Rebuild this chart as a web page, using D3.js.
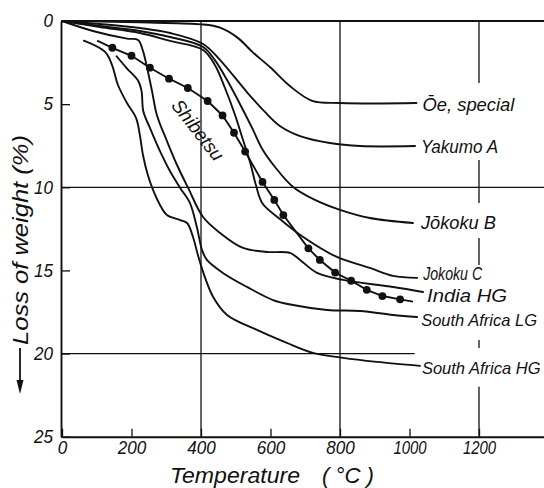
<!DOCTYPE html>
<html><head><meta charset="utf-8">
<script src="https://cdn.jsdelivr.net/npm/d3@7"></script>
<style>
html,body{margin:0;padding:0;background:#fff;}
svg{display:block;}
.f{font-family:"Liberation Sans Narrow","Liberation Sans","Arial Narrow",sans-serif;font-style:italic;fill:#111;}
</style></head>
<body><svg id="c" width="544" height="488"></svg>
<script>
// ---- data (Temperature °C, Loss of weight %) ----
const xTicks = [0, 200, 400, 600, 800, 1000, 1200];
const yTicks = [0, 5, 10, 15, 20, 25];
const seriesNames = ["Ōe, special", "Yakumo A", "Jōkoku B", "Jokoku C", "India HG", "South Africa LG", "South Africa HG"];
const oeSpecial = [[0,0],[110,0.03],[250,0.1],[400,0.2],[455,0.4],[505,1.0],[550,1.9],[600,2.8],[655,3.9],[720,4.8],[800,4.93],[1020,4.93]];
const yakumoA = [[0,0],[109,0.18],[224,0.42],[311,0.72],[406,1.38],[455,2.35],[532,4.27],[584,5.47],[627,6.31],[685,6.92],[771,7.34],[858,7.52],[1016,7.52]];
const jokokuB = [[0,0],[109,0.3],[224,0.6],[311,0.96],[406,1.56],[440,2.35],[475,3.55],[512,4.99],[547,6.43],[578,7.76],[613,8.78],[665,9.98],[728,10.76],[800,11.36],[886,11.85],[1010,12.15]];
const jokokuC = [[0,0],[109,0.36],[224,0.72],[311,1.2],[406,1.74],[440,2.65],[469,4.03],[498,5.65],[521,7.16],[541,8.48],[558,9.86],[576,10.94],[627,11.91],[694,12.99],[791,14.19],[886,14.85],[953,15.33],[1022,15.45]];
const indiaHG = [[0,0],[89,0.6],[187,1.06],[219,1.14],[233,1.8],[245,2.83],[259,4.21],[273,5.65],[302,7.22],[331,8.66],[363,10.04],[406,11.79],[455,12.75],[521,13.65],[590,13.89],[656,13.95],[685,14.37],[734,15.15],[809,15.57],[953,16.0],[1039,16.3]];
const southAfricaLG = [[157,2.12],[186,2.83],[220,3.62],[229,4.23],[234,5.43],[253,6.43],[282,7.83],[311,9.04],[340,10.04],[368,10.94],[388,12.39],[403,13.77],[417,14.37],[463,15.15],[532,15.99],[607,16.78],[665,17.08],[763,17.38],[858,17.44],[953,17.68],[1022,17.8]];
const southAfricaHG = [[63,1.18],[124,1.86],[144,2.65],[161,3.85],[187,4.93],[213,5.83],[224,6.85],[233,8.06],[247,9.26],[262,10.16],[282,11.06],[302,11.67],[340,11.97],[360,12.15],[377,12.99],[391,14.07],[406,15.09],[435,16.6],[475,17.68],[561,18.58],[647,19.36],[722,19.96],[809,20.26],[906,20.5],[1030,20.74]];
const shibetsuName = "Shibetsu";
const shibetsuDots = [[145,1.61],[200,2.09],[253,2.81],[308,3.47],[362,4.03],[419,4.81],[462,5.68],[495,6.72],[527,7.85],[577,9.68],[611,10.76],[637,11.67],[709,13.67],[742,14.37],[786,15.13],[832,15.62],[877,16.17],[922,16.54],[973,16.74]];
const shibetsuStart = [101,1.18];
const shibetsuEnd = [1010,16.88];
const allSeries = [oeSpecial, yakumoA, jokokuB, jokokuC, indiaHG, southAfricaLG, southAfricaHG];

// ---- styling / layout (not data) ----
const labelNudge = [[6,1],[6,0],[8,-1],[6,-5],[4,3],[4,3],[2,2]];
const labelWidth = [92,77,75,59,80,null,null];
const labelSize = [19,19,19,19,19,16.5,16.5];

const svg = d3.select("#c");
const x = d3.scaleLinear().domain([0,1400]).range([62,548.5]);
const y = d3.scaleLinear().domain([0,25]).range([21,436.7]);

const grid = svg.append("g").attr("stroke","#111").attr("fill","none");
grid.append("line").attr("x1",x(0)-1).attr("x2",x(1400)).attr("y1",y(0)).attr("y2",y(0)).attr("stroke-width",1.8);
[400,800].forEach(t=>grid.append("line").attr("x1",x(t)).attr("x2",x(t)).attr("y1",y(0)).attr("y2",y(25)).attr("stroke-width",1.3));
[[0,3.73],[8.36,10.94],[13.05,14.67],[19.18,19.66],[22,25]].forEach(s=>grid.append("line").attr("x1",x(1200)).attr("x2",x(1200)).attr("y1",y(s[0])).attr("y2",y(s[1])).attr("stroke-width",1.3));
grid.append("line").attr("x1",x(0)).attr("x2",x(1400)).attr("y1",y(10)).attr("y2",y(10)).attr("stroke-width",1.3);
grid.append("line").attr("x1",x(0)).attr("x2",x(1015)).attr("y1",y(20)).attr("y2",y(20)).attr("stroke-width",1.3);

// axes
const fontSize = 18;
const digitW = s => s.length >= 4 ? s.length * 8.3 : s.length * 9.5;
const ax = svg.append("g").attr("transform",`translate(0,${y(25)})`)
  .call(d3.axisBottom(x).tickValues(xTicks).tickSizeInner(-8).tickSizeOuter(0).tickPadding(5).tickFormat(d3.format("d")));
const ay = svg.append("g").attr("transform",`translate(${x(0)-1},0)`)
  .call(d3.axisLeft(y).tickValues(yTicks).tickSizeInner(-9).tickSizeOuter(0).tickPadding(8).tickFormat(d3.format("d")));
[ax,ay].forEach(a=>{
  a.select(".domain").attr("stroke","#111").attr("stroke-width",1.9);
  a.selectAll(".tick line").attr("stroke","#111").attr("stroke-width",1.3);
  a.selectAll(".tick text").attr("class","f").attr("font-size",fontSize).attr("fill","#111")
    .attr("textLength",function(){return digitW(this.textContent);}).attr("lengthAdjust","spacingAndGlyphs");
  a.attr("font-family",null).attr("font-size",null);
});

// curves
const line = d3.line().x(d=>x(d[0])).y(d=>y(d[1])).curve(d3.curveCatmullRom.alpha(0.5));
svg.append("g").selectAll("path").data(allSeries).join("path")
  .attr("d",line).attr("fill","none").attr("stroke","#111").attr("stroke-width",1.9)
  .attr("stroke-linejoin","round").attr("stroke-linecap","round");

// Shibetsu
const shibLine = d3.line().x(d=>x(d[0])).y(d=>y(d[1]));
svg.append("path").datum([shibetsuStart, ...shibetsuDots, shibetsuEnd])
  .attr("d",shibLine).attr("fill","none").attr("stroke","#111").attr("stroke-width",1.9);
svg.append("g").selectAll("circle").data(shibetsuDots).join("circle")
  .attr("cx",d=>x(d[0])).attr("cy",d=>y(d[1])).attr("r",3.9).attr("fill","#111");
svg.append("text").attr("class","f").attr("font-size",19)
  .attr("transform",`translate(${x(391)},${y(6.55)}) rotate(52)`)
  .attr("text-anchor","middle").attr("dy","0.35em")
  .attr("textLength",72).attr("lengthAdjust","spacingAndGlyphs").text(shibetsuName);

// series labels
const lbl = svg.append("g").selectAll("text").data(allSeries).join("text")
  .attr("class","f").attr("font-size",(d,i)=>labelSize[i])
  .attr("x",(d,i)=>x(d[d.length-1][0])+labelNudge[i][0])
  .attr("y",(d,i)=>y(d[d.length-1][1])+labelNudge[i][1])
  .attr("dy","0.35em")
  .text((d,i)=>seriesNames[i]);
lbl.filter((d,i)=>labelWidth[i]!=null)
  .attr("textLength",(d)=>labelWidth[allSeries.indexOf(d)]).attr("lengthAdjust","spacingAndGlyphs");

// axis titles
svg.append("text").attr("class","f").attr("font-size",22).attr("x",170).attr("y",483)
  .attr("textLength",130).attr("lengthAdjust","spacingAndGlyphs").text("Temperature");
svg.append("text").attr("class","f").attr("font-size",22).attr("x",322).attr("y",483)
  .attr("textLength",52).attr("lengthAdjust","spacingAndGlyphs").text("( °C )");
svg.append("text").attr("class","f").attr("font-size",22)
  .attr("transform","translate(28,345) rotate(-90)")
  .attr("textLength",210).attr("lengthAdjust","spacingAndGlyphs").text("Loss of weight (%)");
// arrow
svg.append("line").attr("x1",20).attr("x2",20).attr("y1",348).attr("y2",384).attr("stroke","#111").attr("stroke-width",1.8);
svg.append("path").attr("d","M16.5,380 L23.5,380 L20,394 Z").attr("fill","#111");
</script></body></html>
